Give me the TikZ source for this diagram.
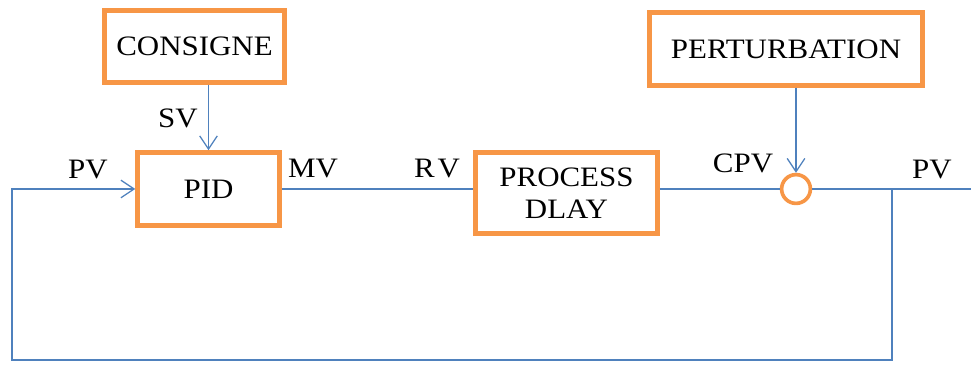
\documentclass[tikz,border=0pt]{standalone}
\usepackage{fontspec}
\setmainfont{Liberation Serif}
\newfontfamily\diagfont[FakeStretch=1.1]{Liberation Serif}
\usetikzlibrary{arrows.meta, positioning}
\definecolor{boxorange}{RGB}{247,150,70}
\definecolor{lineblue}{RGB}{79,129,189}
\tikzset{
  block/.style={rectangle, draw=boxorange, line width=3.2pt, fill=white, align=center, font=\diagfont\fontsize{20}{23}\selectfont},
  junction/.style={circle, draw=boxorange, line width=2.6pt, fill=white, minimum size=0.72cm, inner sep=0pt},
  sig/.style={font=\diagfont\fontsize{20}{22}\selectfont, inner sep=0pt},
  wire/.style={draw=lineblue, line width=0.9pt},
  arrow/.style={wire, -{Straight Barb[length=0.33cm, width=0.44cm, line width=0.9pt]}}
}
\begin{document}
\begin{tikzpicture}
  \useasboundingbox (0,0) rectangle (24.275,9.125);

  \node (consigne) [block, minimum width=4.5cm, minimum height=1.8cm] at (4.8625,7.9625) {CONSIGNE};
  \node (pid) [block, minimum width=3.55cm, minimum height=1.825cm] at (5.2125,4.4) {PID};
  \node (process) [block, minimum width=4.55cm, minimum height=2.025cm] at (14.1625,4.3) {PROCESS\\DLAY};
  \node (perturb) [block, minimum width=6.825cm, minimum height=1.825cm] at (19.65,7.9) {PERTURBATION};
  \node (sum) [junction] at (19.9,4.4) {};
  \coordinate (tap) at (22.3,4.4);
  \coordinate (out) at (24.275,4.4);
  \coordinate (corner) at (0.3,0.125);

  \node (pvin) [sig] at (2.2,4.875) {PV};
  \node (sv) [sig] at (4.45,6.175) {SV};
  \node (mv) [sig] at (7.825,4.9) {MV};
  \node (rv) [sig] at (10.925,4.9) {R\hspace{2pt}V};
  \node (cpv) [sig] at (18.575,5.05) {CPV};
  \node (pvout) [sig] at (23.3,4.875) {PV};

  \draw [arrow] (pid.north |- consigne.south) -- (pid.north);
  \draw [arrow] (sum.north |- perturb.south) -- (sum.north);
  \draw [wire] (pid.east) -- (pid.east -| process.west);
  \draw [wire] (process.east |- sum.west) -- (sum.west);
  \draw [wire] (sum.east) -- (out);
  \draw [arrow] (tap) |- (corner) |- (pid.west);

\end{tikzpicture}
\end{document}
